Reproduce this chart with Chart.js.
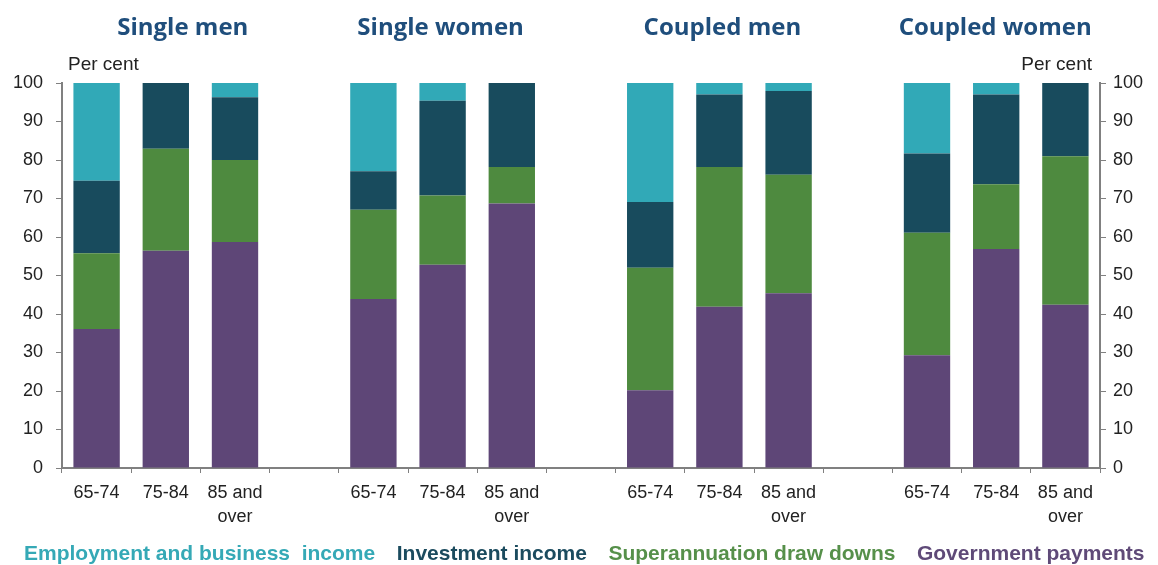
<!DOCTYPE html>
<html>
<head>
<meta charset="utf-8">
<script src="https://cdn.jsdelivr.net/npm/chart.js"></script>
<style>
  body { margin: 0; background: #fff; }
  #wrap { width: 1158px; height: 565px; position: relative; }
</style>
</head>
<body>
<div id="wrap"><canvas id="incomeChart"></canvas></div>
<script>
// age groups, with empty slots between the four panels
var ageGroups = ['65-74', '75-84', ['85 and', 'over'], '',
                 '65-74', '75-84', ['85 and', 'over'], '',
                 '65-74', '75-84', ['85 and', 'over'], '',
                 '65-74', '75-84', ['85 and', 'over']];
var panelTitles = ['Single men', 'Single women', 'Coupled men', 'Coupled women'];
var yTicks = [0, 10, 20, 30, 40, 50, 60, 70, 80, 90, 100];

// per cent of income
var govPayments  = [36.1, 56.4, 58.7, null, 43.9, 52.8, 68.7, null, 20.2, 41.9, 45.4, null, 29.3, 56.9, 42.4];
var superDraw    = [19.7, 26.5, 21.3, null, 23.2, 18.0,  9.5, null, 31.8, 36.3, 30.8, null, 31.8, 16.8, 38.6];
var investIncome = [18.8, 17.1, 16.3, null, 10.0, 24.6, 21.8, null, 17.1, 18.8, 21.7, null, 20.6, 23.3, 19.0];
var employIncome = [25.4,  0.0,  3.7, null, 22.9,  4.6,  0.0, null, 30.9,  3.0,  2.1, null, 18.3,  3.0,  0.0];

var ctx = document.getElementById('incomeChart').getContext('2d');

var panelTitlePlugin = {
  id: 'panelTitles',
  afterDraw: function (chart) {
    var c = chart.ctx;
    var xs = chart.scales.x;
    var nudge = [17, -2, 3, -1];
    c.save();
    c.font = 'bold 24px "Open Sans"';
    c.fillStyle = '#1f4e7c';
    c.textAlign = 'center';
    c.textBaseline = 'middle';
    for (var i = 0; i < panelTitles.length; i++) {
      var x = xs.getPixelForValue(i * 4 + 1) + nudge[i];
      c.fillText(panelTitles[i], x, 28);
    }
    // unit labels
    c.font = '19px "Liberation Sans"';
    c.fillStyle = '#222';
    c.textBaseline = 'middle';
    c.textAlign = 'left';
    c.fillText('Per cent', chart.chartArea.left + 6, 65);
    c.textAlign = 'right';
    c.fillText('Per cent', chart.chartArea.right - 8, 65);
    c.restore();
  }
};

var legendColours = ['#35a9b6', '#1b4b5e', '#56904a', '#5f4a78'];

var myChart = new Chart(ctx, {
  type: 'bar',
  data: {
    labels: ageGroups,
    datasets: [
      { label: 'Government payments', data: govPayments, backgroundColor: '#5e4677' },
      { label: 'Superannuation draw downs', data: superDraw, backgroundColor: '#4e8a3f' },
      { label: 'Investment income', data: investIncome, backgroundColor: '#184b5d' },
      { label: 'Employment and business  income', data: employIncome, backgroundColor: '#31a9b7' }
    ]
  },
  options: {
    responsive: true,
    maintainAspectRatio: false,
    animation: false,
    datasets: { bar: { categoryPercentage: 1.0, barPercentage: 0.67, borderWidth: 0 } },
    layout: { padding: { top: 83, left: 0, right: 0, bottom: -10 } },
    plugins: {
      tooltip: { enabled: false },
      legend: {
        position: 'bottom',
        reverse: true,
        labels: {
          boxWidth: 0,
          boxHeight: 0,
          padding: 11,
          font: { family: '"Liberation Sans"', size: 21, weight: 'bold' },
          generateLabels: function (chart) {
            return chart.data.datasets.map(function (ds, i) {
              return {
                text: ds.label,
                fillStyle: 'rgba(0,0,0,0)',
                strokeStyle: 'rgba(0,0,0,0)',
                lineWidth: 0,
                fontColor: legendColours[3 - i],
                datasetIndex: i
              };
            });
          }
        }
      }
    },
    scales: {
      x: {
        stacked: true,
        afterFit: function (axis) { axis.height = 65; },
        grid: { drawOnChartArea: false, offset: true, color: '#808080', tickLength: 5 },
        border: { color: '#808080', width: 2 },
        ticks: { color: '#222', font: { family: '"Liberation Sans"', size: 18, lineHeight: 1.33 }, padding: 8, autoSkip: false, maxRotation: 0 }
      },
      y: {
        stacked: true,
        position: 'left',
        min: 0, max: 100,
        afterBuildTicks: function (axis) { axis.ticks = yTicks.map(function (v) { return { value: v }; }); },
        afterFit: function (axis) { axis.width = 62; },
        grid: { drawOnChartArea: false, color: '#808080', tickLength: 6 },
        border: { color: '#808080', width: 2 },
        ticks: { color: '#222', font: { family: '"Liberation Sans"', size: 18 }, padding: 13 }
      },
      y2: {
        position: 'right',
        min: 0, max: 100,
        afterBuildTicks: function (axis) { axis.ticks = yTicks.map(function (v) { return { value: v }; }); },
        afterFit: function (axis) { axis.width = 58; },
        grid: { drawOnChartArea: false, color: '#808080', tickLength: 6 },
        border: { color: '#808080', width: 2 },
        ticks: { color: '#222', font: { family: '"Liberation Sans"', size: 18 }, padding: 7 }
      }
    }
  },
  plugins: [panelTitlePlugin]
});
</script>
</body>
</html>
